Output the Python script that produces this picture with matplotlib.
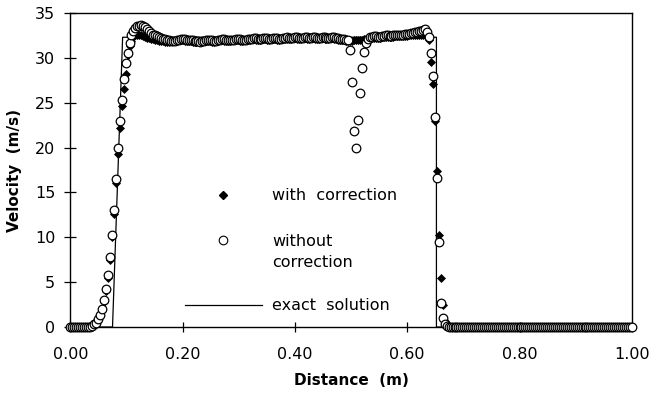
import numpy as np
import matplotlib
matplotlib.use("Agg")
import matplotlib.pyplot as plt

# velocity at the computational nodes (0..1 m, 286 nodes)
nodes_x = np.linspace(0.0, 1.0, 286)

v_without = [
    0, 0, 0, 0, 0, 0, 0, 0, 0, 0,
    0.05, 0.15, 0.3, 0.5, 0.85, 1.3, 2.0, 3.0, 4.2, 5.8,
    7.8, 10.3, 13.0, 16.5, 19.9, 23.0, 25.3, 27.7, 29.4, 30.5,
    31.7, 32.5, 33.0, 33.3, 33.5, 33.6, 33.7, 33.6, 33.4, 33.2,
    33.0, 32.8, 32.6, 32.5, 32.4, 32.3, 32.2, 32.1, 32.1, 32.0,
    32.0, 31.9, 31.9, 31.9, 32.0, 32.0, 32.1, 32.1, 32.1, 32.0,
    32.0, 32.0, 32.0, 31.9, 31.9, 31.9, 31.8, 31.9, 31.9, 32.0,
    32.0, 32.0, 32.0, 31.9, 31.9, 32.0, 32.0, 32.1, 32.1, 32.0,
    32.0, 32.0, 32.0, 32.0, 32.1, 32.1, 32.1, 32.0, 32.0, 32.0,
    32.1, 32.1, 32.1, 32.2, 32.2, 32.1, 32.1, 32.1, 32.2, 32.2,
    32.2, 32.1, 32.1, 32.2, 32.2, 32.2, 32.1, 32.1, 32.2, 32.2,
    32.3, 32.2, 32.2, 32.2, 32.3, 32.3, 32.2, 32.2, 32.2, 32.3,
    32.3, 32.2, 32.2, 32.3, 32.3, 32.2, 32.2, 32.2, 32.3, 32.3,
    32.2, 32.2, 32.2, 32.3, 32.3, 32.2, 32.2, 32.1, 32.1, 32.1,
    32.0, 32.0, 30.9, 27.3, 21.8, 19.9, 23.1, 26.1, 28.9, 30.7,
    31.7, 32.1, 32.3, 32.3, 32.4, 32.4, 32.3, 32.3, 32.4, 32.4,
    32.5, 32.5, 32.4, 32.4, 32.5, 32.6, 32.6, 32.5, 32.5, 32.6,
    32.7, 32.7, 32.7, 32.8, 32.8, 32.9, 32.9, 33.0, 33.0, 33.1,
    33.2, 32.9, 32.3, 30.6, 28.0, 23.4, 16.6, 9.5, 2.7, 1.0,
    0.3, 0.1, 0, 0, 0, 0, 0, 0, 0, 0,
    0, 0, 0, 0, 0, 0, 0, 0, 0, 0,
    0, 0, 0, 0, 0, 0, 0, 0, 0, 0,
    0, 0, 0, 0, 0, 0, 0, 0, 0, 0,
    0, 0, 0, 0, 0, 0, 0, 0, 0, 0,
    0, 0, 0, 0, 0, 0, 0, 0, 0, 0,
    0, 0, 0, 0, 0, 0, 0, 0, 0, 0,
    0, 0, 0, 0, 0, 0, 0, 0, 0, 0,
    0, 0, 0, 0, 0, 0, 0, 0, 0, 0,
    0, 0, 0, 0, 0, 0,
]

v_with = [
    0, 0, 0, 0, 0, 0, 0, 0, 0, 0,
    0.05, 0.1, 0.25, 0.45, 0.8, 1.2, 1.9, 2.8, 4.0, 5.5,
    7.5, 10.0, 12.6, 16.0, 19.3, 22.2, 24.6, 26.5, 28.2, 30.3,
    31.3, 31.9, 32.3, 32.5, 32.6, 32.6, 32.5, 32.4, 32.3, 32.2,
    32.2, 32.1, 32.1, 32.0, 32.0, 31.9, 31.9, 31.9, 31.8, 31.8,
    31.8, 31.9, 31.9, 31.9, 31.9, 32.0, 32.0, 32.0, 31.9, 31.9,
    31.9, 31.9, 31.8, 31.8, 31.8, 31.8, 31.8, 31.9, 31.9, 31.9,
    31.9, 31.9, 31.8, 31.8, 31.9, 31.9, 32.0, 32.0, 31.9, 31.9,
    31.9, 31.9, 32.0, 32.0, 32.0, 32.0, 31.9, 31.9, 32.0, 32.0,
    32.0, 32.0, 32.1, 32.1, 32.0, 32.0, 32.0, 32.1, 32.1, 32.1,
    32.0, 32.0, 32.1, 32.1, 32.1, 32.0, 32.0, 32.1, 32.1, 32.1,
    32.1, 32.1, 32.1, 32.2, 32.2, 32.1, 32.1, 32.1, 32.2, 32.2,
    32.1, 32.1, 32.2, 32.2, 32.1, 32.1, 32.1, 32.2, 32.2, 32.1,
    32.1, 32.1, 32.2, 32.2, 32.1, 32.1, 32.0, 32.0, 32.0, 32.0,
    31.9, 31.9, 31.9, 31.9, 32.0, 32.0, 32.0, 32.0, 32.0, 32.1,
    32.1, 32.1, 32.2, 32.2, 32.2, 32.2, 32.2, 32.2, 32.3, 32.3,
    32.3, 32.3, 32.3, 32.3, 32.3, 32.4, 32.4, 32.4, 32.4, 32.4,
    32.4, 32.4, 32.5, 32.5, 32.5, 32.5, 32.5, 32.6, 32.6, 32.6,
    32.6, 32.5, 32.0, 29.5, 27.1, 23.0, 17.4, 10.3, 5.5, 2.5,
    0.7, 0.2, 0, 0, 0, 0, 0, 0, 0, 0,
    0, 0, 0, 0, 0, 0, 0, 0, 0, 0,
    0, 0, 0, 0, 0, 0, 0, 0, 0, 0,
    0, 0, 0, 0, 0, 0, 0, 0, 0, 0,
    0, 0, 0, 0, 0, 0, 0, 0, 0, 0,
    0, 0, 0, 0, 0, 0, 0, 0, 0, 0,
    0, 0, 0, 0, 0, 0, 0, 0, 0, 0,
    0, 0, 0, 0, 0, 0, 0, 0, 0, 0,
    0, 0, 0, 0, 0, 0, 0, 0, 0, 0,
    0, 0, 0, 0, 0, 0,
]

exact_x = [0.0, 0.075, 0.093, 0.652, 0.652, 1.0]
exact_v = [0.0, 0.0, 32.3, 32.3, 0.0, 0.0]

labels = ['with  correction', 'without\ncorrection', 'exact  solution']

plt.rcParams['font.family'] = ['DejaVu Sans']

fig = plt.figure(figsize=(6.52, 4.01), dpi=100)
ax = fig.add_axes([0.108, 0.1845, 0.861, 0.783])

ax.plot(exact_x, exact_v, color='black', lw=0.9, zorder=1)
ax.plot(nodes_x, v_with, 'D', ms=4.5, mfc='black', mec='black', mew=0.5,
        clip_on=False, zorder=2)
ax.plot(nodes_x, v_without, 'o', ms=6.2, mfc='white', mec='black', mew=0.9,
        clip_on=False, zorder=3)

ax.set_xlim(0, 1)
ax.set_ylim(0, 35)
ax.set_xticks([0.0, 0.2, 0.4, 0.6, 0.8, 1.0])
ax.set_xticklabels(['0.00', '0.20', '0.40', '0.60', '0.80', '1.00'])
ax.set_yticks(range(0, 36, 5))
ax.tick_params(axis='x', direction='inout', length=7, width=0.9,
               labelsize=11.5, pad=11)
ax.tick_params(axis='y', direction='inout', length=8, width=0.9,
               labelsize=11.5, pad=7)
ax.tick_params(top=False, right=False)
for s in ax.spines.values():
    s.set_linewidth(1.0)

ax.set_xlabel('Distance  (m)', fontsize=11, fontweight='bold', labelpad=8)
ax.set_ylabel('Velocity  (m/s)', fontsize=11, fontweight='bold', labelpad=9)

# hand-placed key
tr = ax.transAxes
ax.plot([0.2716], [0.4204], 'D', ms=4.5, color='black', transform=tr)
ax.plot([0.272], [0.277], 'o', ms=6.2, mfc='white', mec='black', mew=0.8,
        transform=tr)
ax.plot([0.204, 0.341], [0.070, 0.070], color='black', lw=0.9, transform=tr)
ax.text(0.359, 0.4204, labels[0], transform=tr, fontsize=11.5, va='center')
ax.text(0.359, 0.2386, labels[1], transform=tr, fontsize=11.5, va='center',
        linespacing=1.45)
ax.text(0.359, 0.070, labels[2], transform=tr, fontsize=11.5, va='center')

fig.savefig('out.png', dpi=100)
